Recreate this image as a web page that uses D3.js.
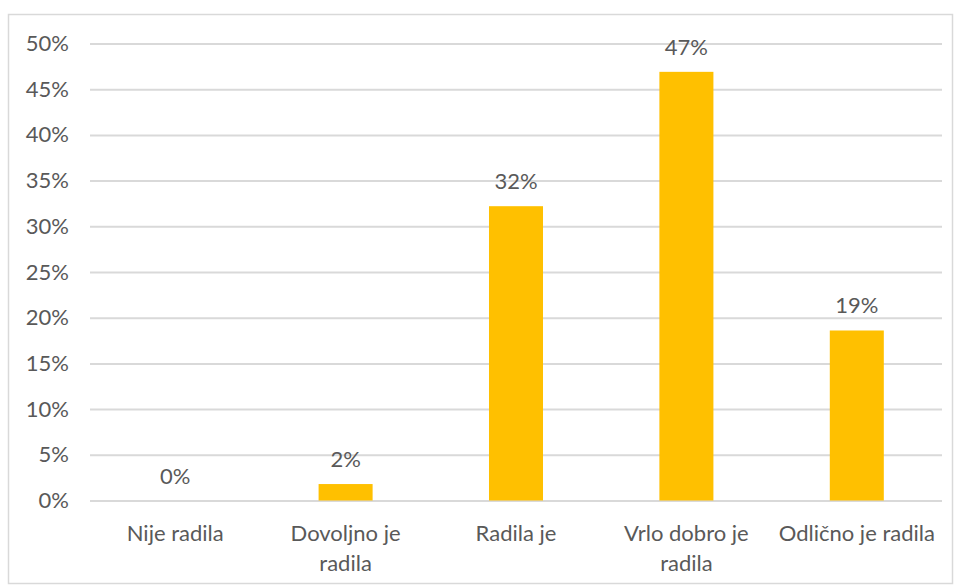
<!DOCTYPE html>
<html><head><meta charset="utf-8">
<script src="https://cdn.jsdelivr.net/npm/d3@7"></script>
<style>html,body{margin:0;padding:0;background:#fff;}svg{display:block;}</style>
</head><body>
<svg id="chart" width="957" height="585"></svg>
<script>
const categories = ["Nije radila", "Dovoljno je radila", "Radila je", "Vrlo dobro je radila", "Odlično je radila"];
const values = [0, 1.8, 32.2, 46.9, 18.6];
const valueLabels = ["0%", "2%", "32%", "47%", "19%"];
const yTicks = [0, 5, 10, 15, 20, 25, 30, 35, 40, 45, 50];

const svg = d3.select("#chart");
const W = 957, H = 585;
const font = "Lato, 'Open Sans', sans-serif";
const textColor = "#595959";
const fs = 22;

svg.append("rect").attr("x", 8.5).attr("y", 14.5).attr("width", 944).attr("height", 569)
  .attr("fill", "#fff").attr("stroke", "#d9d9d9").attr("stroke-width", 1.5);

const m = {left: 90, right: 15, top: 43.5, bottom: 84.5};
const x = d3.scaleBand().domain(categories).range([m.left, W - m.right]).paddingInner(0.683).paddingOuter(0.3415);
const y = d3.scaleLinear().domain([0, 50]).range([H - m.bottom, m.top]);

// gridlines
const gy = svg.append("g").attr("transform", `translate(${m.left},0)`)
  .call(d3.axisLeft(y).tickValues(yTicks).tickSize(-(W - m.right - m.left)).tickFormat(d => d + "%").tickPadding(21));
gy.select(".domain").remove();
gy.selectAll(".tick line").attr("stroke", "#d9d9d9").attr("stroke-width", 2);
gy.selectAll(".tick text").attr("fill", textColor).style("font-family", font).style("font-size", fs + "px");

// bars
svg.append("g").selectAll("rect").data(values).join("rect")
  .attr("x", (d, i) => x(categories[i]))
  .attr("width", x.bandwidth())
  .attr("y", d => y(d))
  .attr("height", d => y(0) - y(d))
  .attr("fill", "#FFC000");

// value labels
svg.append("g").selectAll("text").data(values).join("text")
  .attr("x", (d, i) => x(categories[i]) + x.bandwidth() / 2)
  .attr("y", d => y(d) - 17)
  .attr("text-anchor", "middle")
  .attr("fill", textColor).style("font-family", font).style("font-size", fs + "px")
  .text((d, i) => valueLabels[i]);

// category labels with wrapping
const xg = svg.append("g");
categories.forEach((c, i) => {
  const cx = x(c) + x.bandwidth() / 2;
  const t = xg.append("text").attr("x", cx).attr("y", 541)
    .attr("text-anchor", "middle").attr("fill", textColor)
    .style("font-family", font).style("font-size", fs + "px");
  const words = c.split(" ");
  let line = [];
  let ts = t.append("tspan").attr("x", cx).attr("dy", 0);
  words.forEach(w => {
    line.push(w);
    ts.text(line.join(" "));
    if (ts.node().getComputedTextLength() > 160 && line.length > 1) {
      line.pop();
      ts.text(line.join(" "));
      line = [w];
      ts = t.append("tspan").attr("x", cx).attr("dy", 30).text(w);
    }
  });
});
</script>
</body></html>
